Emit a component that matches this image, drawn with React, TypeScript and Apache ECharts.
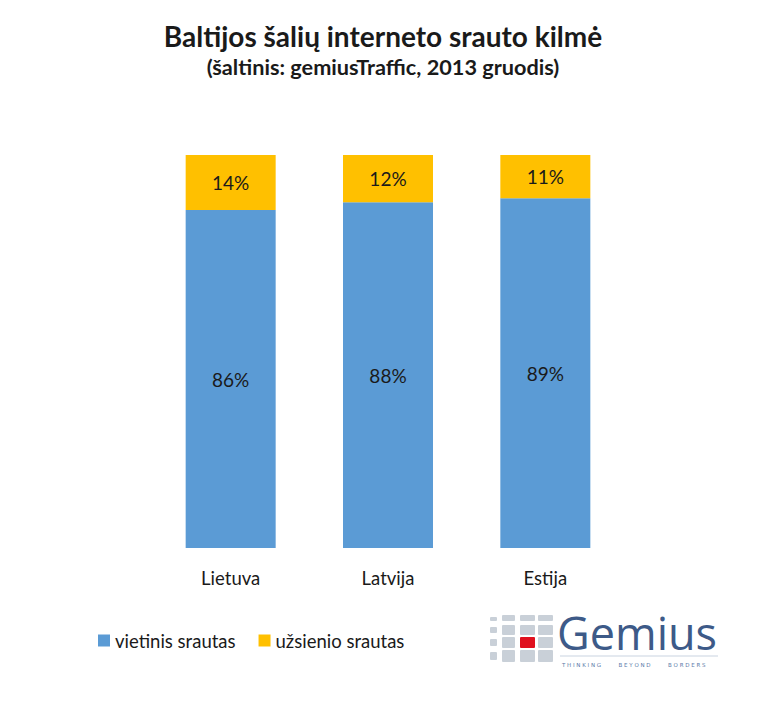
import React, { useEffect, useRef } from "react";
import * as echarts from "echarts";

const categories = ["Lietuva", "Latvija", "Estija"];
const localShare = [86, 88, 89];
const foreignShare = [14, 12, 11];
const seriesNames = ["vietinis srautas", "užsienio srautas"];
const titleText = "Baltijos šalių interneto srauto kilmė";
const subtitleText = "(šaltinis: gemiusTraffic, 2013 gruodis)";

const FONT = "Lato, 'Open Sans', sans-serif";
const OFF = 8; // body margin

const spaced = (w: string) => w.split("").join(" ");
const GAP = "          ";
const TAGLINE = [spaced("THINKING"), spaced("BEYOND"), spaced("BORDERS")].join(GAP);

export default function App() {
  const ref = useRef<HTMLDivElement>(null);
  useEffect(() => {
    if (!ref.current) return;
    const chart = echarts.init(ref.current, undefined, { renderer: "svg" });

    const squares: any[] = [];
    const cols = [
      { x: 490, w: 7 },
      { x: 502, w: 13 },
      { x: 520, w: 15 },
      { x: 538, w: 15 },
    ];
    const rows = [
      { y: 615, h: 6 },
      { y: 625, h: 10 },
      { y: 637, h: 11 },
      { y: 650, h: 12 },
    ];
    cols.forEach((c, ci) => {
      rows.forEach((r, ri) => {
        const red = ci === 2 && ri === 2;
        squares.push({
          type: "rect",
          shape: {
            x: c.x - OFF,
            y: r.y - OFF + (ci === 0 ? 2 : 0),
            width: c.w,
            height: ci === 0 ? Math.max(4, r.h - 4) : r.h,
            r: 1,
          },
          style: { fill: red ? "#e0101e" : "#c9d0d8" },
          silent: true,
        });
      });
    });

    const labelStyle = {
      show: true,
      position: "inside",
      formatter: "{c}%",
      fontFamily: FONT,
      fontSize: 19,
      color: "#1a1a1a",
    };

    chart.setOption({
      animation: false,
      title: [
        {
          text: titleText,
          left: "center",
          top: 9,
          textStyle: { fontFamily: FONT, fontSize: 28, fontWeight: "bold", color: "#1a1a1a" },
        },
        {
          text: subtitleText,
          left: "center",
          top: 43,
          textStyle: { fontFamily: FONT, fontSize: 21.7, fontWeight: "bold", color: "#1a1a1a" },
        },
      ],
      legend: {
        left: 85,
        top: 618,
        itemWidth: 12,
        itemHeight: 12,
        itemGap: 23,
        icon: "rect",
        textStyle: { fontFamily: FONT, fontSize: 18.5, color: "#1a1a1a" },
        data: seriesNames,
      },
      grid: { left: 144, width: 472, top: 147, height: 393, containLabel: false },
      xAxis: {
        type: "category",
        data: categories,
        axisLine: { show: false },
        axisTick: { show: false },
        axisLabel: { fontFamily: FONT, fontSize: 18.5, color: "#1a1a1a", margin: 20 },
      },
      yAxis: {
        type: "value",
        min: 0,
        max: 100,
        show: false,
        splitLine: { show: false },
      },
      series: [
        {
          name: seriesNames[0],
          type: "bar",
          stack: "total",
          barWidth: 90,
          data: localShare,
          itemStyle: { color: "#5B9BD5" },
          label: labelStyle,
        },
        {
          name: seriesNames[1],
          type: "bar",
          stack: "total",
          barWidth: 90,
          data: foreignShare,
          itemStyle: { color: "#FFC000" },
          label: labelStyle,
        },
      ],
      graphic: [
        ...squares,
        {
          type: "line",
          shape: { x1: 560 - OFF, y1: 656 - OFF, x2: 718 - OFF, y2: 656 - OFF },
          style: { stroke: "#c9d3e0", lineWidth: 1 },
          silent: true,
        },
        {
          type: "text",
          x: 557 - OFF,
          y: 611 - OFF,
          style: {
            text: "{g|Gemius}",
            verticalAlign: "top",
            rich: {
              g: {
                fontFamily: "'Open Sans', sans-serif",
                fontSize: 45,
                lineHeight: 42,
                fill: "#3d5a88",
                color: "#3d5a88",
              },
            },
          },
          silent: true,
        },
        {
          type: "text",
          x: 562 - OFF,
          y: 662 - OFF,
          style: {
            text: TAGLINE,
            fontFamily: "'DejaVu Sans', sans-serif",
            fontSize: 5.5,
            fill: "#5a78a8",
            verticalAlign: "top",
          },
          silent: true,
        },
      ],
    });
    return () => chart.dispose();
  }, []);
  return <div ref={ref} style={{ width: 750, height: 685 }} />;
}
